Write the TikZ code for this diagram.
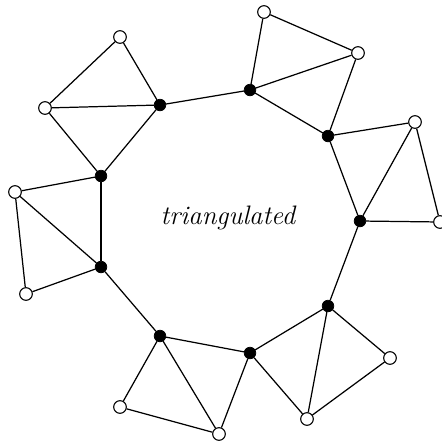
\documentclass[tikz,border=0pt]{standalone}
\usepackage{tikz}
\usetikzlibrary{backgrounds}

\begin{document}
\begin{tikzpicture}[
  x=0.02cm, y=-0.02cm,
  inner/.style={circle, draw=black, fill=black, inner sep=0pt, minimum size=6.6pt},
  outer/.style={circle, draw=black, fill=white, inner sep=0pt, minimum size=7.2pt, line width=0.6pt},
  edge/.style={line width=0.7pt},
]
\useasboundingbox (0,0) rectangle (442,444);

% ---- the cycle of inner vertices ----
\node[inner] (b1) at (160,105) {};
\node[inner] (b2) at (250,90) {};
\node[inner] (b3) at (328,136) {};
\node[inner] (b4) at (360,221) {};
\node[inner] (b5) at (328,306) {};
\node[inner] (b6) at (250,353) {};
\node[inner] (b7) at (160,336) {};
\node[inner] (b8) at (101,267) {};
\node[inner] (b9) at (101,176) {};

% ---- outer vertices, two per attached quadrilateral ----
\node[outer] (q1a) at (120,37) {};
\node[outer] (q1b) at (45,108) {};
\node[outer] (q2a) at (264,12) {};
\node[outer] (q2b) at (358,53) {};
\node[outer] (q3a) at (415,122) {};
\node[outer] (q3b) at (440,222) {};
\node[outer] (q4a) at (390,358) {};
\node[outer] (q4b) at (307,419) {};
\node[outer] (q5a) at (120,407) {};
\node[outer] (q5b) at (219,434) {};
\node[outer] (q6a) at (15,192) {};
\node[outer] (q6b) at (26,294) {};

\node (lbl) at (228,218) {\fontsize{15.2}{18}\selectfont\itshape triangulated};

\begin{pgfonlayer}{background}
\foreach \i/\j in {b1/b2, b2/b3, b3/b4, b4/b5, b5/b6, b6/b7, b7/b8, b8/b9, b9/b1}
  \draw[edge] (\i) -- (\j);
% quadrilaterals with their diagonals
\draw[edge] (b1) -- (q1a) -- (q1b) -- (b9);  \draw[edge] (q1b) -- (b1);
\draw[edge] (b2) -- (q2a) -- (q2b) -- (b3);  \draw[edge] (q2b) -- (b2);
\draw[edge] (b3) -- (q3a) -- (q3b) -- (b4);  \draw[edge] (q3a) -- (b4);
\draw[edge] (b5) -- (q4a) -- (q4b) -- (b6);  \draw[edge] (q4b) -- (b5);
\draw[edge] (b7) -- (q5a) -- (q5b) -- (b6);  \draw[edge] (q5b) -- (b7);
\draw[edge] (b9) -- (q6a) -- (q6b) -- (b8);  \draw[edge] (q6a) -- (b8);
\end{pgfonlayer}
\end{tikzpicture}
\end{document}
